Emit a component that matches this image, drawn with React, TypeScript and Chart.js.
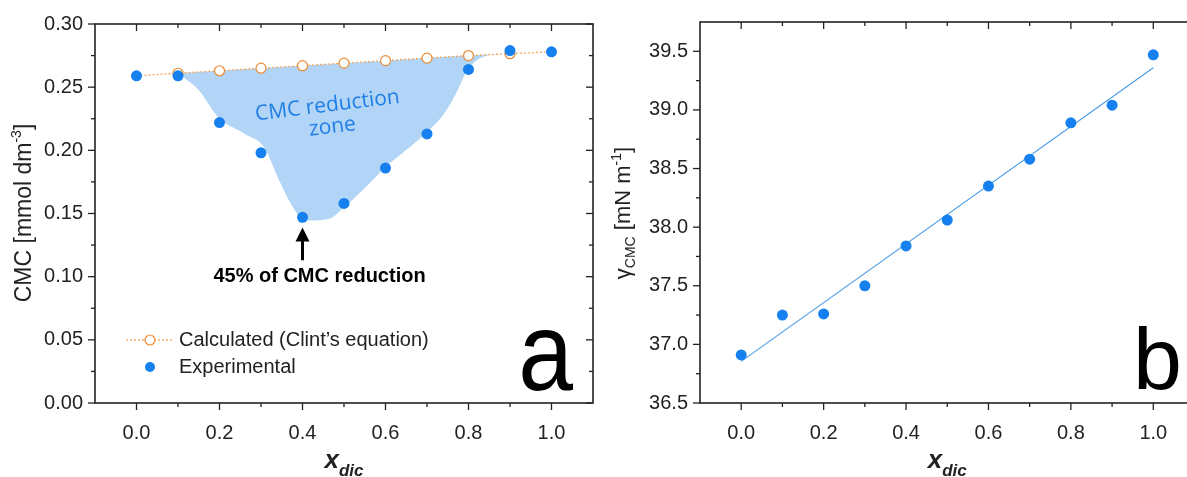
import React, { useEffect, useRef } from 'react';
import { Chart, registerables } from 'chart.js';

Chart.register(...registerables);

// ---------- data ----------
const xDic = [0, 0.1, 0.2, 0.3, 0.4, 0.5, 0.6, 0.7, 0.8, 0.9, 1.0];
const cmcExperimental = [0.259, 0.259, 0.222, 0.198, 0.147, 0.158, 0.186, 0.213, 0.264, 0.279, 0.278];
const cmcCalculated = [0.259, 0.261, 0.263, 0.265, 0.267, 0.269, 0.271, 0.273, 0.275, 0.2765, 0.278];
const zoneX = [0.1, 0.15, 0.2, 0.26, 0.307, 0.344, 0.372, 0.395, 0.418, 0.464, 0.5, 0.556, 0.6, 0.649, 0.7, 0.741, 0.774, 0.797, 0.82, 0.85];
const zoneY = [0.2612, 0.2476, 0.2251, 0.2132, 0.2026, 0.1762, 0.1577, 0.147, 0.1444, 0.1458, 0.155, 0.172, 0.1868, 0.2, 0.2146, 0.229, 0.2476, 0.2635, 0.2714, 0.2757];
const gammaCMC = [36.91, 37.25, 37.26, 37.5, 37.84, 38.06, 38.35, 38.58, 38.89, 39.04, 39.47];
const fitX = [0, 1];
const fitY = [36.855, 39.36];

const xTicks = [0, 0.2, 0.4, 0.6, 0.8, 1.0];
const xMinorTicks = [0.1, 0.3, 0.5, 0.7, 0.9];
const cmcTicks = [0, 0.05, 0.1, 0.15, 0.2, 0.25, 0.3];
const cmcMinorTicks = [0.025, 0.075, 0.125, 0.175, 0.225, 0.275];
const gammaTicks = [36.5, 37.0, 37.5, 38.0, 38.5, 39.0, 39.5];
const gammaMinorTicks = [36.75, 37.25, 37.75, 38.25, 38.75, 39.25];

const legendCalculated = 'Calculated (Clint\u2019s equation)';
const legendExperimental = 'Experimental';
const zoneLabel = ['CMC reduction', 'zone'];
const reductionLabel = '45% of CMC reduction';

// ---------- style ----------
const FONT = '"Liberation Sans", Arial, sans-serif';
const BLUE = '#1580ee';
const ORANGE = '#ea8c34';
const ORANGE_LINE = '#f2a65a';
const ZONE = 'rgb(178,212,246)';
const ZONE_TEXT = '#1f7fe6';
const INK = '#222222';

type Seg = { t: string; font: string; dy: number };

function drawRich(ctx: CanvasRenderingContext2D, segs: Seg[], cx: number, cy: number, rot: number) {
  ctx.save();
  ctx.translate(cx, cy);
  ctx.rotate(rot);
  ctx.textAlign = 'left';
  ctx.textBaseline = 'alphabetic';
  let w = 0;
  segs.forEach((s) => {
    ctx.font = s.font;
    w += ctx.measureText(s.t).width;
  });
  let x = -w / 2;
  segs.forEach((s) => {
    ctx.font = s.font;
    ctx.fillText(s.t, x, s.dy);
    x += ctx.measureText(s.t).width;
  });
  ctx.restore();
}

function drawFrame(chart: any, xMaj: number[], xMin: number[], yMaj: number[], yMin: number[]) {
  const ctx: CanvasRenderingContext2D = chart.ctx;
  const { left, right, top, bottom } = chart.chartArea;
  const xs = chart.scales.x;
  const ys = chart.scales.y;
  ctx.save();
  ctx.strokeStyle = INK;
  ctx.lineWidth = 1.6;
  ctx.strokeRect(left, top, right - left, bottom - top);
  ctx.lineWidth = 1.3;
  const line = (a: number, b: number, c: number, d: number) => {
    ctx.beginPath();
    ctx.moveTo(a, b);
    ctx.lineTo(c, d);
    ctx.stroke();
  };
  xMaj.forEach((v) => {
    const p = xs.getPixelForValue(v);
    line(p, bottom, p, bottom + 7);
    line(p, top, p, top + 7);
  });
  xMin.forEach((v) => {
    const p = xs.getPixelForValue(v);
    line(p, bottom, p, bottom + 4);
    line(p, top, p, top + 4);
  });
  yMaj.forEach((v) => {
    const p = ys.getPixelForValue(v);
    line(left - 7, p, left, p);
    line(right - 7, p, right, p);
  });
  yMin.forEach((v) => {
    const p = ys.getPixelForValue(v);
    line(left - 4, p, left, p);
    line(right - 4, p, right, p);
  });
  ctx.restore();
}

function drawXTitle(chart: any) {
  const ctx: CanvasRenderingContext2D = chart.ctx;
  const cx = chart.scales.x.getPixelForValue(0.5);
  ctx.save();
  ctx.fillStyle = INK;
  drawRich(
    ctx,
    [
      { t: 'x', font: `italic bold 26px ${FONT}`, dy: 0 },
      { t: 'dic', font: `italic bold 17px ${FONT}`, dy: 8 },
    ],
    cx,
    468,
    0
  );
  ctx.restore();
}

const tickFont = { family: FONT, size: 20 };

function baseOptions(yMin: number, yMax: number, yTickVals: number[], yDigits: number, padTop: number) {
  return {
    responsive: false,
    animation: false as const,
    devicePixelRatio: 1,
    layout: { padding: { left: 0, right: 7, top: padTop, bottom: 0 } },
    plugins: { legend: { display: false }, tooltip: { enabled: false } },
    scales: {
      x: {
        type: 'linear' as const,
        min: -0.1,
        max: 1.1,
        grid: { display: false },
        border: { display: false },
        ticks: {
          font: tickFont,
          color: INK,
          padding: 10,
          autoSkip: false,
          maxRotation: 0,
          callback: (v: any) => Number(v).toFixed(1),
        },
        afterBuildTicks: (s: any) => {
          s.ticks = xTicks.map((v) => ({ value: v }));
        },
        afterFit: (s: any) => {
          s.height = 74;
        },
      },
      y: {
        type: 'linear' as const,
        min: yMin,
        max: yMax,
        grid: { display: false },
        border: { display: false },
        ticks: {
          font: tickFont,
          color: INK,
          padding: 4,
          autoSkip: false,
          callback: (v: any) => Number(v).toFixed(yDigits),
        },
        afterBuildTicks: (s: any) => {
          s.ticks = yTickVals.map((v) => ({ value: v }));
        },
        afterFit: (s: any) => {
          s.width = 95;
        },
      },
    },
  };
}

export default function App() {
  const refA = useRef<HTMLCanvasElement | null>(null);
  const refB = useRef<HTMLCanvasElement | null>(null);

  useEffect(() => {
    if (!refA.current || !refB.current) return;

    const decoA = {
      id: 'decoA',
      afterDraw(chart: any) {
        const ctx: CanvasRenderingContext2D = chart.ctx;
        const xs = chart.scales.x;
        const ys = chart.scales.y;
        drawFrame(chart, xTicks, xMinorTicks, cmcTicks, cmcMinorTicks);
        drawXTitle(chart);

        ctx.save();
        ctx.fillStyle = INK;
        drawRich(
          ctx,
          [
            { t: 'CMC [mmol dm', font: `23px ${FONT}`, dy: 0 },
            { t: '-3', font: `14px ${FONT}`, dy: -10 },
            { t: ']', font: `23px ${FONT}`, dy: 0 },
          ],
          31,
          213,
          -Math.PI / 2
        );

        // zone label
        ctx.fillStyle = ZONE_TEXT;
        ctx.font = `21px "Open Sans", ${FONT}`;
        ctx.textAlign = 'center';
        ctx.textBaseline = 'middle';
        const zPos = [
          [0.46, 0.2353],
          [0.472, 0.2185],
        ];
        zoneLabel.forEach((t, i) => {
          ctx.save();
          ctx.translate(xs.getPixelForValue(zPos[i][0]), ys.getPixelForValue(zPos[i][1]));
          ctx.rotate((-7 * Math.PI) / 180);
          ctx.fillText(t, 0, 0);
          ctx.restore();
        });

        // arrow
        const ax = xs.getPixelForValue(0.4);
        const tail = ys.getPixelForValue(0.113);
        const tip = ys.getPixelForValue(0.139);
        ctx.strokeStyle = '#000';
        ctx.fillStyle = '#000';
        ctx.lineWidth = 3;
        ctx.beginPath();
        ctx.moveTo(ax, tail);
        ctx.lineTo(ax, tip + 10);
        ctx.stroke();
        ctx.beginPath();
        ctx.moveTo(ax, tip);
        ctx.lineTo(ax - 7, tip + 14);
        ctx.lineTo(ax + 7, tip + 14);
        ctx.closePath();
        ctx.fill();

        ctx.font = `bold 20px ${FONT}`;
        ctx.textAlign = 'center';
        ctx.textBaseline = 'middle';
        ctx.fillText(reductionLabel, xs.getPixelForValue(0.441), ys.getPixelForValue(0.1));

        // legend
        const ly1 = 340;
        const ly2 = 367;
        ctx.strokeStyle = ORANGE_LINE;
        ctx.lineWidth = 1.3;
        ctx.setLineDash([2, 2]);
        ctx.beginPath();
        ctx.moveTo(126, ly1);
        ctx.lineTo(174, ly1);
        ctx.stroke();
        ctx.setLineDash([]);
        ctx.fillStyle = '#fff';
        ctx.strokeStyle = ORANGE;
        ctx.lineWidth = 1.2;
        ctx.beginPath();
        ctx.arc(150, ly1, 5, 0, Math.PI * 2);
        ctx.fill();
        ctx.stroke();
        ctx.fillStyle = BLUE;
        ctx.beginPath();
        ctx.arc(150, ly2, 5, 0, Math.PI * 2);
        ctx.fill();
        ctx.fillStyle = INK;
        ctx.font = `20px ${FONT}`;
        ctx.textAlign = 'left';
        ctx.textBaseline = 'middle';
        ctx.fillText(legendCalculated, 179, ly1);
        ctx.fillText(legendExperimental, 179, ly2);

        // panel letter
        ctx.fillStyle = '#000';
        ctx.translate(573, 390);
        ctx.scale(0.88, 1);
        ctx.font = `112px ${FONT}`;
        ctx.textAlign = 'right';
        ctx.textBaseline = 'alphabetic';
        ctx.fillText('a', 0, 0);
        ctx.restore();
      },
    };

    const decoB = {
      id: 'decoB',
      afterDraw(chart: any) {
        const ctx: CanvasRenderingContext2D = chart.ctx;
        drawFrame(chart, xTicks, xMinorTicks, gammaTicks, gammaMinorTicks);
        drawXTitle(chart);
        ctx.save();
        ctx.fillStyle = INK;
        drawRich(
          ctx,
          [
            { t: '\u03b3', font: `22px ${FONT}`, dy: 0 },
            { t: 'CMC', font: `14px ${FONT}`, dy: 5 },
            { t: ' [mN m', font: `22px ${FONT}`, dy: 0 },
            { t: '-1', font: `14px ${FONT}`, dy: -9 },
            { t: ']', font: `22px ${FONT}`, dy: 0 },
          ],
          30,
          213,
          -Math.PI / 2
        );
        ctx.fillStyle = '#000';
        ctx.font = `88px ${FONT}`;
        ctx.textAlign = 'right';
        ctx.textBaseline = 'alphabetic';
        ctx.fillText('b', 582, 389);
        ctx.restore();
      },
    };

    const chartA = new Chart(refA.current, {
      type: 'line',
      data: {
        datasets: [
          {
            label: legendExperimental,
            data: xDic.map((x, i) => ({ x, y: cmcExperimental[i] })),
            showLine: false,
            pointRadius: 5.5,
            pointBackgroundColor: BLUE,
            pointBorderWidth: 0,
            borderColor: BLUE,
            order: 0,
          },
          {
            label: legendCalculated,
            data: xDic.map((x, i) => ({ x, y: cmcCalculated[i] })),
            borderColor: ORANGE_LINE,
            borderDash: [2, 2],
            borderWidth: 1.3,
            pointRadius: (c: any) => (c.dataIndex === 0 || c.dataIndex === xDic.length - 1 ? 0 : 5),
            pointBackgroundColor: '#ffffff',
            pointBorderColor: ORANGE,
            pointBorderWidth: 1.2,
            fill: false,
            order: 1,
          },
          {
            label: 'zone',
            data: zoneX.map((x, i) => ({ x, y: zoneY[i] })),
            borderColor: 'transparent',
            borderWidth: 0,
            pointRadius: 0,
            cubicInterpolationMode: 'monotone',
            fill: 1,
            backgroundColor: ZONE,
            order: 2,
          },
        ],
      },
      options: baseOptions(0, 0.3, cmcTicks, 2, 24) as any,
      plugins: [decoA],
    });

    const chartB = new Chart(refB.current, {
      type: 'line',
      data: {
        datasets: [
          {
            label: 'gamma',
            data: xDic.map((x, i) => ({ x, y: gammaCMC[i] })),
            showLine: false,
            pointRadius: 5.5,
            pointBackgroundColor: BLUE,
            pointBorderWidth: 0,
            borderColor: BLUE,
            order: 0,
          },
          {
            label: 'fit',
            data: fitX.map((x, i) => ({ x, y: fitY[i] })),
            borderColor: '#4a9be8',
            borderWidth: 1.1,
            pointRadius: 0,
            fill: false,
            order: 1,
          },
        ],
      },
      options: (() => {
        const o: any = baseOptions(36.5, 39.75, gammaTicks, 1, 22);
        o.layout.padding.right = 2.5;
        o.scales.y.afterFit = (s: any) => {
          s.width = 100;
        };
        return o;
      })(),
      plugins: [decoB],
    });

    return () => {
      chartA.destroy();
      chartB.destroy();
    };
  }, []);

  return (
    <div
      style={{
        position: 'fixed',
        left: 0,
        top: 0,
        width: 1187,
        height: 477,
        overflow: 'hidden',
        background: '#fff',
      }}
    >
      <canvas ref={refA} width={600} height={477} style={{ position: 'absolute', left: 0, top: 0, width: 600, height: 477 }} />
      <canvas ref={refB} width={600} height={477} style={{ position: 'absolute', left: 600, top: 0, width: 600, height: 477 }} />
    </div>
  );
}
